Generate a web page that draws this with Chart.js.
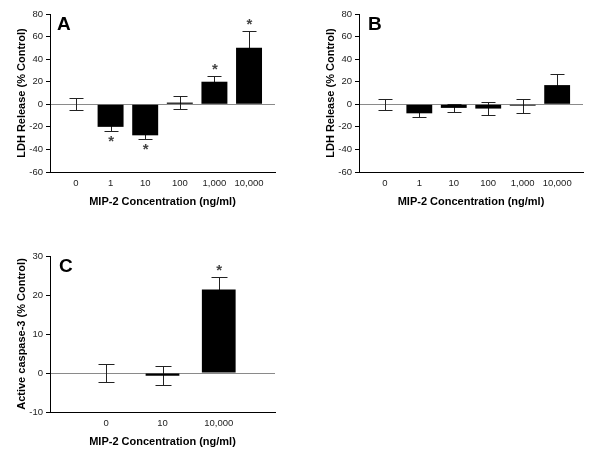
<!DOCTYPE html>
<html>
<head>
<meta charset="utf-8">
<script src="https://cdn.jsdelivr.net/npm/chart.js@4/dist/chart.umd.min.js"></script>
<style>
  body { margin: 0; background: #fff; }
  #wrap { position: relative; width: 600px; height: 465px; }
  canvas { position: absolute; }
</style>
</head>
<body>
<div id="wrap">
  <canvas id="panelA" width="300" height="215" style="left:0;top:0"></canvas>
  <canvas id="panelB" width="300" height="215" style="left:300px;top:0"></canvas>
  <canvas id="panelC" width="300" height="215" style="left:0;top:240px"></canvas>
</div>
<script>
// concentrations (ng/ml)
var labelsAB = ['0', '1', '10', '100', '1,000', '10,000'];
var labelsC = ['0', '10', '10,000'];

// LDH release, % control (mean, error)
var ldhA = [0, -20, -27.5, 1.5, 20, 50];
var errA = [5.5, 3.6, 3, 5.5, 5.4, 15];
var starA = [false, true, true, false, true, true];

var ldhB = [0, -8, -3.2, -3.8, -1.2, 17];
var errB = [4.8, 3.5, 3.3, 5.9, 6.1, 10];
var starB = [false, false, false, false, false, false];

// active caspase-3, % control
var caspC = [0, -0.7, 21.4];
var errC = [2.4, 2.4, 3.2];
var starC = [false, false, true];

var yTicksAB = [-60, -40, -20, 0, 20, 40, 60, 80];
var yTicksC = [-10, 0, 10, 20, 30];

var fontFam = '"Liberation Sans", Arial, sans-serif';

var extrasPlugin = {
	id: 'extras',
	beforeDatasetsDraw: function(chart, args, opts) {
		// error bars go under the bars, as in the figure
		var ctx = chart.ctx;
		var xs = chart.scales.x, ys = chart.scales.y;
		ctx.save();
		ctx.strokeStyle = '#222';
		ctx.lineWidth = 1;
		for (var i = 0; i < opts.values.length; i++) {
			var px = Math.round(xs.getPixelForValue(i)) + 0.5;
			var top = Math.round(ys.getPixelForValue(opts.values[i] + opts.errors[i])) + 0.5;
			var bot = Math.round(ys.getPixelForValue(opts.values[i] - opts.errors[i])) + 0.5;
			ctx.beginPath();
			ctx.moveTo(px, top); ctx.lineTo(px, bot);
			ctx.moveTo(px - opts.cap, top); ctx.lineTo(px + opts.cap, top);
			ctx.moveTo(px - opts.cap, bot); ctx.lineTo(px + opts.cap, bot);
			ctx.stroke();
		}
		ctx.restore();
	},
	afterDatasetsDraw: function(chart, args, opts) {
		var ctx = chart.ctx;
		var xs = chart.scales.x, ys = chart.scales.y;
		ctx.save();
		ctx.fillStyle = '#444';
		ctx.font = 'bold 15px ' + fontFam;
		ctx.textAlign = 'center';
		ctx.textBaseline = 'middle';
		for (var i = 0; i < opts.values.length; i++) {
			if (!opts.stars[i]) continue;
			var px = xs.getPixelForValue(i) + 0.5;
			var sy = opts.values[i] >= 0
				? ys.getPixelForValue(opts.values[i] + opts.errors[i]) - 6
				: ys.getPixelForValue(opts.values[i] - opts.errors[i]) + 11;
			ctx.fillText('*', px, sy);
		}
		// panel letter
		ctx.fillStyle = '#000';
		ctx.font = 'bold 19px ' + fontFam;
		ctx.textAlign = 'left';
		ctx.textBaseline = 'top';
		ctx.fillText(opts.letter, chart.chartArea.left + opts.letterDx, chart.chartArea.top + 1);
		ctx.restore();
	}
};

function makePanel(id, labels, values, errors, stars, yTicks, yTitle, letter, cfg) {
	var points = [];
	for (var i = 0; i < values.length; i++) points.push({x: i, y: values[i]});
	return new Chart(document.getElementById(id), {
		type: 'bar',
		data: {
			datasets: [{
				data: points,
				backgroundColor: '#000',
				borderWidth: 0,
				barPercentage: cfg.barPct,
				categoryPercentage: 1
			}]
		},
		options: {
			responsive: false,
			animation: false,
			layout: { padding: { top: cfg.padTop, right: cfg.padRight, left: cfg.padLeft, bottom: 0 } },
			plugins: {
				legend: { display: false },
				tooltip: { enabled: false },
				extras: { values: values, errors: errors, stars: stars, letter: letter, cap: cfg.cap, letterDx: cfg.letterDx }
			},
			scales: {
				x: {
					type: 'linear',
					offset: false,
					min: cfg.xMin,
					max: labels.length - 1 + cfg.xMax,
					afterBuildTicks: function(s) { s.ticks = labels.map(function(l, i) { return {value: i}; }); },
					afterFit: function(s) { s.height = 43; },
					ticks: {
						callback: function(v) { return labels[v]; },
						color: '#222',
						font: { family: fontFam, size: 9.5 },
						padding: 6,
						maxRotation: 0
					},
					grid: { drawOnChartArea: false, drawTicks: false },
					border: { color: '#000', width: 1 },
					title: {
						display: true,
						text: 'MIP-2 Concentration (ng/ml)',
						color: '#000',
						font: { family: fontFam, size: 11, weight: 'bold' },
						padding: 6
					}
				},
				y: {
					min: yTicks[0],
					max: yTicks[yTicks.length - 1],
					afterBuildTicks: function(s) { s.ticks = yTicks.map(function(v) { return {value: v}; }); },
					afterFit: function(s) { s.width = 50; },
					ticks: {
						color: '#222',
						font: { family: fontFam, size: 9.5 },
						padding: 3
					},
					grid: {
						color: function(c) { return c.tick && c.tick.value === 0 ? '#8a8a8a' : 'rgba(0,0,0,0)'; },
						tickColor: '#000',
						tickLength: 4
					},
					border: { color: '#000', width: 1 },
					title: {
						display: true,
						text: yTitle,
						color: '#000',
						font: { family: fontFam, size: 11, weight: 'bold' },
						padding: 15
					}
				}
			}
		},
		plugins: [extrasPlugin]
	});
}

makePanel('panelA', labelsAB, ldhA, errA, starA, yTicksAB,
	'LDH Release (% Control)', 'A',
	{ padTop: 14, padRight: 25, padLeft: 0, barPct: 0.75, cap: 7, xMin: -0.75, xMax: 0.75, letterDx: 7 });
makePanel('panelB', labelsAB, ldhB, errB, starB, yTicksAB,
	'LDH Release (% Control)', 'B',
	{ padTop: 14, padRight: 17, padLeft: 9, barPct: 0.75, cap: 7, xMin: -0.75, xMax: 0.75, letterDx: 9 });
makePanel('panelC', labelsC, caspC, errC, starC, yTicksC,
	'Active caspase-3 (% Control)', 'C',
	{ padTop: 16, padRight: 25, padLeft: 0, barPct: 0.6, cap: 8, xMin: -1, xMax: 1, letterDx: 9 });
</script>
</body>
</html>
